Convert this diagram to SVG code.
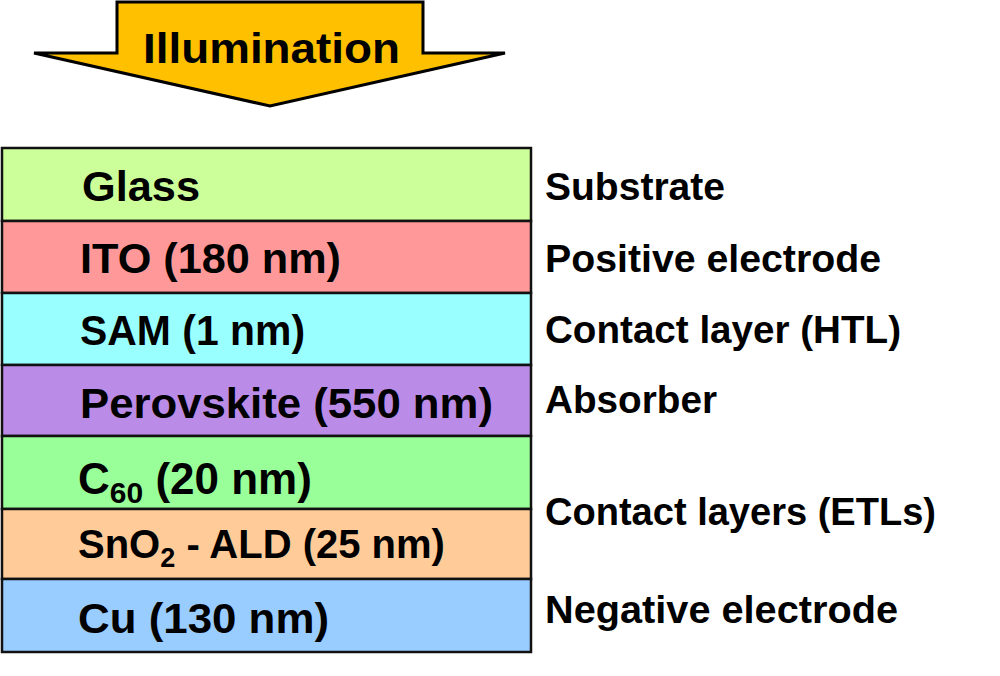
<svg xmlns="http://www.w3.org/2000/svg" width="1000" height="676" viewBox="0 0 1000 676">
<style>
.layer{stroke:#111;stroke-width:2.5}
.lt{font-family:"Liberation Sans",Arial,sans-serif;font-weight:bold;font-size:42px;fill:#000}
.rt{font-family:"Liberation Sans",Arial,sans-serif;font-weight:bold;font-size:39px;fill:#000}
</style>
<rect width="1000" height="676" fill="#fff"/>
<g id="illumination">
<path d="M117,2 L423,2 L423,53 L505,53 L270,106 L34,53 L117,53 Z" fill="#FFC000" stroke="#000" stroke-width="3" stroke-linejoin="miter"/>
<text class="lt" x="143" y="63" textLength="257" lengthAdjust="spacingAndGlyphs">Illumination</text>
</g>
<g id="glass">
<rect class="layer" x="2" y="148" width="529" height="73" fill="#CCFF99"/>
<text class="lt" x="82" y="201" textLength="118" lengthAdjust="spacingAndGlyphs">Glass</text>
</g>
<g id="ito">
<rect class="layer" x="2" y="221" width="529" height="72" fill="#FF9999"/>
<text class="lt" x="80" y="273" textLength="261" lengthAdjust="spacingAndGlyphs">ITO (180 nm)</text>
</g>
<g id="sam">
<rect class="layer" x="2" y="293" width="529" height="72" fill="#99FFFF"/>
<text class="lt" x="80" y="345" textLength="225" lengthAdjust="spacingAndGlyphs">SAM (1 nm)</text>
</g>
<g id="perovskite">
<rect class="layer" x="2" y="365" width="529" height="71" fill="#BB8BE8"/>
<text class="lt" x="80" y="418" textLength="413" lengthAdjust="spacingAndGlyphs">Perovskite (550 nm)</text>
</g>
<g id="c60">
<rect class="layer" x="2" y="436" width="529" height="73" fill="#99FF99"/>
<text class="lt" x="78" y="494" style="font-size:44px">C<tspan style="font-size:30px" dy="9">60</tspan><tspan dy="-9"> (20 nm)</tspan></text>
</g>
<g id="sno2">
<rect class="layer" x="2" y="509" width="529" height="70" fill="#FFCC99"/>
<text class="lt" x="78" y="558" style="font-size:40px">SnO<tspan style="font-size:27px" dy="9">2</tspan><tspan dy="-9"> - ALD (25 nm)</tspan></text>
</g>
<g id="cu">
<rect class="layer" x="2" y="579" width="529" height="73" fill="#99CCFF"/>
<text class="lt" x="78" y="633" textLength="251" lengthAdjust="spacingAndGlyphs">Cu (130 nm)</text>
</g>
<g id="labels">
<text class="rt" x="545" y="200" textLength="180" lengthAdjust="spacingAndGlyphs">Substrate</text>
<text class="rt" x="545" y="272" textLength="336" lengthAdjust="spacingAndGlyphs">Positive electrode</text>
<text class="rt" x="545" y="343" textLength="356" lengthAdjust="spacingAndGlyphs">Contact layer (HTL)</text>
<text class="rt" x="545" y="413" textLength="172" lengthAdjust="spacingAndGlyphs">Absorber</text>
<text class="rt" x="545" y="525" textLength="391" lengthAdjust="spacingAndGlyphs">Contact layers (ETLs)</text>
<text class="rt" x="545" y="623" textLength="353" lengthAdjust="spacingAndGlyphs">Negative electrode</text>
</g>
<g id="connectors"></g>
</svg>
